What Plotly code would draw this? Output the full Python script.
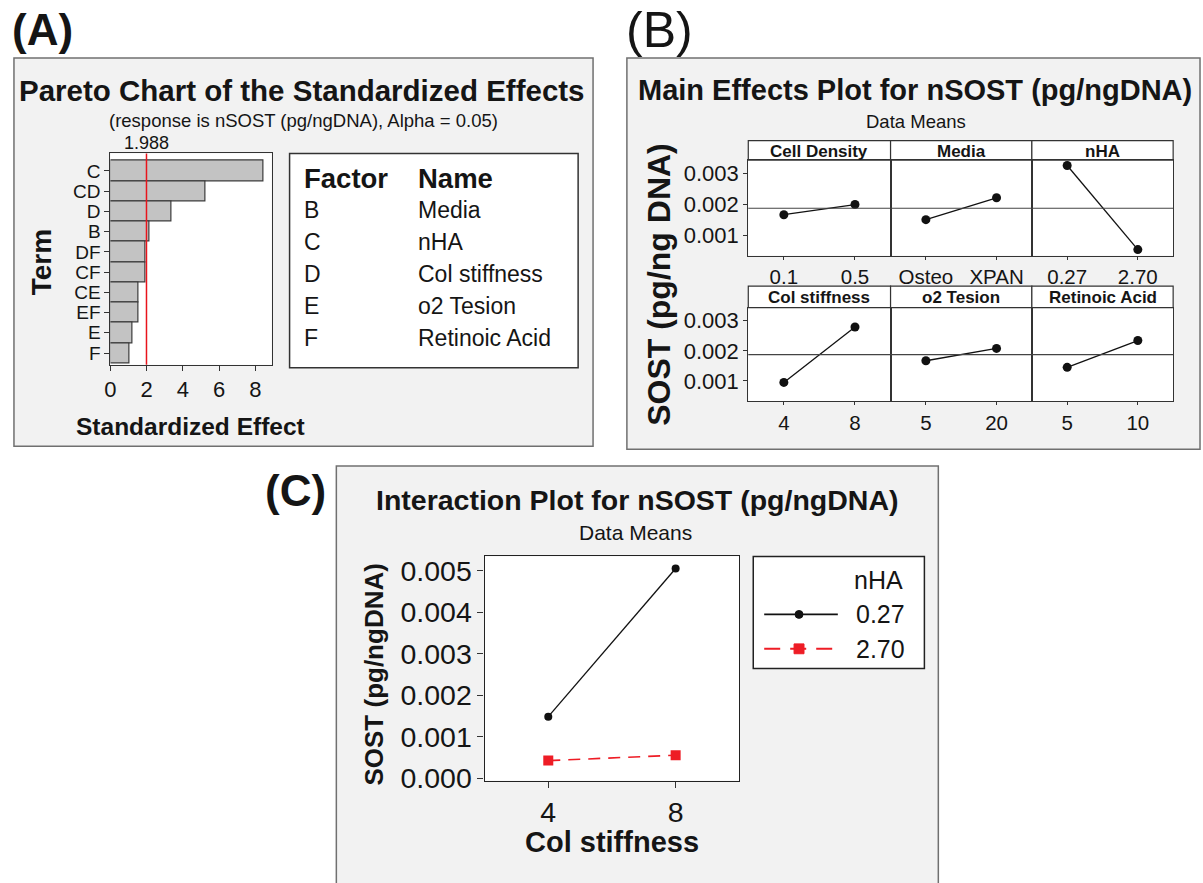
import plotly.graph_objects as go

# ---------------- data ----------------
# Panel A: Pareto chart of standardized effects
terms = ["C", "CD", "D", "B", "DF", "CF", "CE", "EF", "E", "F"]
std_effects = [8.45, 5.24, 3.37, 2.13, 1.94, 1.94, 1.57, 1.57, 1.20, 1.03]
alpha_crit = 1.988
effect_ticks = [0, 2, 4, 6, 8]
factor_letters = ["B", "C", "D", "E", "F"]
factor_names = ["Media", "nHA", "Col stiffness", "o2 Tesion", "Retinoic Acid"]

# Panel B: main effects (data means)
me_factors = ["Cell Density", "Media", "nHA", "Col stiffness", "o2 Tesion", "Retinoic Acid"]
me_levels = [["0.1", "0.5"], ["Osteo", "XPAN"], ["0.27", "2.70"],
             ["4", "8"], ["5", "20"], ["5", "10"]]
me_means = [[0.00166, 0.00199], [0.00150, 0.00221], [0.00326, 0.000525],
            [0.00095, 0.00279], [0.00167, 0.00208], [0.00145, 0.00234]]
grand_mean = 0.00187
me_yticks = [0.001, 0.002, 0.003]

# Panel C: interaction plot
col_stiffness = [4, 8]
nha_levels = ["0.27", "2.70"]
int_means = [[0.00148, 0.00505], [0.00042, 0.00055]]
int_yticks = [0.000, 0.001, 0.002, 0.003, 0.004, 0.005]

# ---------------- helpers ----------------
W, H = 1203, 883
FONT = "Liberation Sans, Arial, sans-serif"
TXT = "#151515"


def fx(p):
    return p / W


def fy(p):
    return 1 - p / H


shapes = []
annotations = []


def box(x0, y0, x1, y1, fill, line="rgba(0,0,0,0)", w=0):
    shapes.append(dict(type="rect", xref="paper", yref="paper",
                       x0=fx(x0), x1=fx(x1), y0=fy(y1), y1=fy(y0),
                       fillcolor=fill, line=dict(color=line, width=w), layer="below"))


def text(x, y, s, size, bold=False, anchor="center", angle=0, color=TXT):
    annotations.append(dict(xref="paper", yref="paper", x=fx(x), y=fy(y),
                            text=f"<b>{s}</b>" if bold else s, showarrow=False,
                            font=dict(family=FONT, size=size, color=color),
                            xanchor=anchor, yanchor="middle", textangle=angle))


fig = go.Figure()
layout_axes = {}

# ---------------- outer panels ----------------
box(8, 57, 590, 452, "#f2f2f2", "#707070", 1.5)
box(624, 57, 1200, 455, "#f2f2f2", "#707070", 1.5)
box(332, 472, 937, 900, "#f2f2f2", "#707070", 1.5)

text(4, 28, "(A)", 44, bold=True, anchor="left")
text(621, 28, "(B)", 50, anchor="left")
text(258, 497, "(C)", 44, bold=True, anchor="left")

# ---------------- Panel A ----------------
A_x0, A_x1, A_y0, A_y1 = 105, 267, 154, 369
box(A_x0, A_y0, A_x1, A_y1, "white")
text(297, 90, "Pareto Chart of the Standardized Effects", 29.5, bold=True)
text(299, 121, "(response is nSOST (pg/ngDNA), Alpha = 0.05)", 18.5)
text(185, 432, "Standardized Effect", 24.5, bold=True)
text(36, 265, "Term", 28, bold=True, angle=-90)

fig.add_trace(go.Bar(x=std_effects, y=terms, orientation="h", width=1,
                     marker=dict(color="#c3c3c3", line=dict(color="#3a3a3a", width=1.2)),
                     xaxis="x", yaxis="y", showlegend=False))
layout_axes["xaxis"] = dict(domain=[fx(A_x0), fx(A_x1)], range=[0, 8.9], tickvals=effect_ticks,
                            ticks="outside", ticklen=5, tickcolor="#333", showline=True, mirror=True,
                            linecolor="#333", linewidth=1.2, showgrid=False, zeroline=False,
                            tickfont=dict(family=FONT, size=22, color=TXT), anchor="y")
layout_axes["yaxis"] = dict(domain=[fy(A_y1), fy(A_y0)], type="category", categoryarray=terms,
                            categoryorder="array", range=[9.58, -0.87],
                            tickmode="array", tickvals=terms, ticktext=terms,
                            ticks="outside", ticklen=5, tickcolor="#333", showline=True, mirror=True,
                            linecolor="#333", linewidth=1.2, showgrid=False,
                            tickfont=dict(family=FONT, size=19, color=TXT), anchor="x")
shapes.append(dict(type="line", xref="x", yref="y domain", x0=alpha_crit, x1=alpha_crit,
                   y0=0, y1=1, line=dict(color="#e8141c", width=1.5)))
annotations.append(dict(xref="x", yref="paper", x=alpha_crit, y=fy(143), text=f"{alpha_crit:.3f}",
                        showarrow=False, font=dict(family=FONT, size=18, color=TXT),
                        xanchor="center", yanchor="middle"))

# factor table
box(285, 154, 575, 372, "white", "#333", 1.5)
text(297, 180, "Factor", 27.5, bold=True, anchor="left")
text(412, 180, "Name", 27.5, bold=True, anchor="left")
for i, (l, n) in enumerate(zip(factor_letters, factor_names)):
    yy = 212 + 32.5 * i
    text(297, yy, l, 23, anchor="left")
    text(412, yy, n, 23, anchor="left")

# ---------------- Panel B ----------------
text(914, 90, "Main Effects Plot for nSOST (pg/ngDNA)", 29, bold=True)
text(915, 122, "Data Means", 18.5)
text(656, 287, "SOST (pg/ng DNA)", 32, bold=True, angle=-90)

cols = [746, 889, 1031, 1173]
rows = [(141, 161, 258), (289, 311, 406)]  # strip top, plot top, plot bottom
B_range = [0.00033, 0.00343]
for i, fac in enumerate(me_factors):
    r, c = divmod(i, 3)
    st, pt, pb = rows[r]
    x0, x1 = cols[c], cols[c + 1]
    box(x0, pt, x1, pb, "white")
    box(x0, st, x1, pt, "white", "#333", 1.2)
    text((x0 + x1) / 2, (st + pt) / 2 + 1, fac, 17, bold=True)
    k = i + 2
    fig.add_trace(go.Scatter(x=[0, 1], y=me_means[i], mode="lines+markers",
                             line=dict(color="#111", width=1.3),
                             marker=dict(color="#111", size=9),
                             xaxis=f"x{k}", yaxis=f"y{k}", showlegend=False))
    layout_axes[f"xaxis{k}"] = dict(domain=[fx(x0), fx(x1)], range=[-0.5, 1.5], tickvals=[0, 1],
                                    ticktext=me_levels[i], ticks="outside", ticklen=3, tickcolor="#333",
                                    showline=True, mirror=True, linecolor="#333", linewidth=1.2,
                                    showgrid=False, zeroline=False, anchor=f"y{k}",
                                    tickfont=dict(family=FONT, size=20.5, color=TXT))
    ydict = dict(domain=[fy(pb), fy(pt)], range=B_range, showline=True, mirror=True,
                 linecolor="#333", linewidth=1.2, showgrid=False, zeroline=False, anchor=f"x{k}")
    if c == 0:
        ydict.update(tickvals=me_yticks, ticktext=[f"{v:.3f}" for v in me_yticks], ticks="outside",
                     ticklen=4, tickcolor="#333", tickfont=dict(family=FONT, size=22, color=TXT))
    else:
        ydict.update(showticklabels=False, ticks="")
    layout_axes[f"yaxis{k}"] = ydict
    shapes.append(dict(type="line", xref=f"x{k} domain", yref=f"y{k}", x0=0, x1=1,
                       y0=grand_mean, y1=grand_mean, line=dict(color="#444", width=1.2)))

# ---------------- Panel C ----------------
C_x0, C_x1, C_y0, C_y1 = 481, 737, 564, 792
box(C_x0, C_y0, C_x1, C_y1, "white")
text(634, 507, "Interaction Plot for nSOST (pg/ngDNA)", 28.5, bold=True)
text(633, 540, "Data Means", 21)
text(609, 855, "Col stiffness", 29, bold=True)
text(370, 684, "SOST (pg/ngDNA)", 26, bold=True, angle=-90)

styles = [dict(color="#111111", dash="solid", symbol="circle", size=8, width=1.3),
          dict(color="#ee1c25", dash="12px,8px", symbol="square", size=10, width=1.6)]
for lvl, ys, st in zip(nha_levels, int_means, styles):
    fig.add_trace(go.Scatter(x=col_stiffness, y=ys, mode="lines+markers", name=lvl,
                             line=dict(color=st["color"], width=st["width"], dash=st["dash"]),
                             marker=dict(color=st["color"], symbol=st["symbol"], size=st["size"]),
                             xaxis="x8", yaxis="y8", showlegend=False))
layout_axes["xaxis8"] = dict(domain=[fx(C_x0), fx(C_x1)], range=[2, 10], tickvals=col_stiffness,
                             ticks="outside", ticklen=6, tickcolor="#333", showline=True, mirror=True,
                             linecolor="#222", linewidth=1.3, showgrid=False, zeroline=False,
                             tickfont=dict(family=FONT, size=28.5, color=TXT), anchor="y8")
layout_axes["yaxis8"] = dict(domain=[fy(C_y1), fy(C_y0)], range=[-0.00006, 0.00534],
                             tickvals=int_yticks, ticktext=[f"{v:.3f}" for v in int_yticks],
                             ticks="outside", ticklen=6, tickcolor="#333", showline=True, mirror=True,
                             linecolor="#222", linewidth=1.3, showgrid=False, zeroline=False,
                             tickfont=dict(family=FONT, size=28.5, color=TXT), anchor="x8")

# legend (manual, matching the reference box)
box(751, 564, 923, 678, "white", "#222", 1.5)
text(904, 588, "nHA", 25, anchor="right")
for j, (lvl, st) in enumerate(zip(nha_levels, styles)):
    yy = 623 + 35 * j
    text(852, yy, lvl, 25, anchor="left")
    shapes.append(dict(type="line", xref="paper", yref="paper", x0=fx(762), x1=fx(836),
                       y0=fy(yy), y1=fy(yy),
                       line=dict(color=st["color"], width=st["width"] + 0.3,
                                 dash="solid" if j == 0 else "16px,10px")))
    r = 4 if j == 0 else 5
    shapes.append(dict(type="circle" if j == 0 else "rect", xref="paper", yref="paper",
                       x0=fx(797 - r), x1=fx(797 + r), y0=fy(yy + r), y1=fy(yy - r),
                       fillcolor=st["color"], line=dict(color=st["color"], width=1)))

fig.update_layout(width=W, height=H, margin=dict(l=0, r=0, t=0, b=0),
                  paper_bgcolor="white", plot_bgcolor="rgba(0,0,0,0)",
                  shapes=shapes, annotations=annotations, showlegend=False,
                  font=dict(family=FONT, color=TXT), bargap=0, **layout_axes)

fig.write_html("out.html", config={"displayModeBar": False},
               post_script="document.body.style.margin='0';document.body.style.overflow='hidden';")
